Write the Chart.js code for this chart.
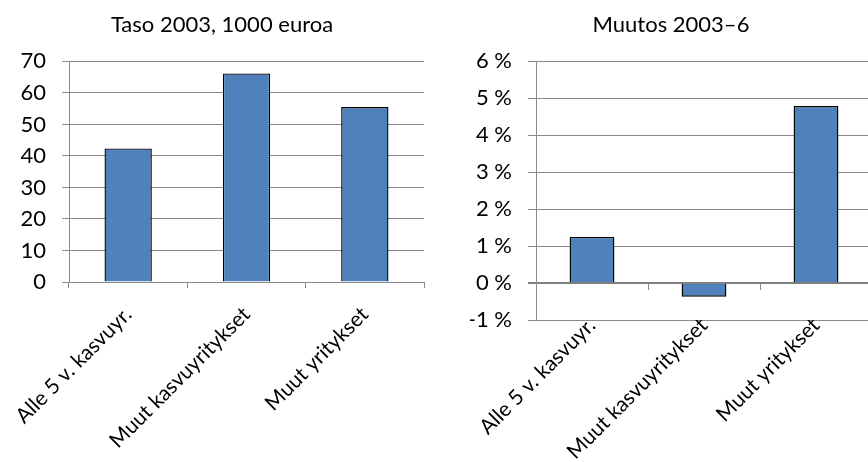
<!DOCTYPE html>
<html>
<head>
<meta charset="utf-8">
<script src="https://cdn.jsdelivr.net/npm/chart.js@4"></script>
<style>
  html, body { margin: 0; padding: 0; background: #fff; overflow: hidden; }
  #wrap { position: relative; width: 868px; height: 462px; }
  #left { position: absolute; left: 0; top: 0; width: 434px; height: 462px; }
  #rightClip { position: absolute; left: 434px; top: 0; width: 434px; height: 462px; overflow: hidden; }
  #right { position: absolute; left: 0; top: 0; width: 440px; height: 462px; }
</style>
</head>
<body>
<div id="wrap">
  <div id="left"><canvas id="levelChart" width="434" height="462"></canvas></div>
  <div id="rightClip"><div id="right"><canvas id="changeChart" width="440" height="462"></canvas></div></div>
</div>
<script>
const categories = ['Alle 5 v. kasvuyr.', 'Muut kasvuyritykset', 'Muut yritykset']
const level2003 = [42.4, 66.2, 55.5]
const change2003to6 = [1.25, -0.37, 4.79]
const levelTitle = 'Taso 2003, 1000 euroa'
const changeTitle = 'Muutos 2003–6'

const FONT = 'Lato, "Open Sans", sans-serif'
const barFill = '#4F81BD'
const gridGray = '#8a8a8a'

Chart.defaults.font.family = FONT
Chart.defaults.color = '#000'
Chart.defaults.animation = false

// small tick marks on the zero line, between categories (Excel style)
const zeroTicks = {
  id: 'zeroTicks',
  afterDatasetsDraw(chart) {
    const { ctx, scales: { x, y } } = chart
    const y0 = y.getPixelForValue(0)
    const step = (x.right - x.left) / chart.data.labels.length
    ctx.save()
    ctx.strokeStyle = gridGray
    ctx.lineWidth = 1
    ctx.beginPath()
    for (let i = 1; i < chart.data.labels.length; i++) {
      const px = Math.round(x.left + i * step) + 0.5
      ctx.moveTo(px, y0)
      ctx.lineTo(px, y0 + 7)
    }
    ctx.stroke()
    ctx.restore()
  }
}

const baseOptions = (cfg) => ({
  responsive: false,
  layout: { padding: { left: cfg.padLeft, right: cfg.padRight, top: 0, bottom: 0 } },
  plugins: {
    legend: { display: false },
    tooltip: { enabled: false },
    title: {
      display: true,
      text: cfg.title,
      font: { size: 22, weight: 'normal' },
      color: '#000',
      padding: { top: 12, bottom: 23 }
    }
  },
  scales: {
    x: {
      offset: true,
      grid: { display: true, drawOnChartArea: false, drawTicks: cfg.xTicks, tickLength: 6, color: gridGray, offset: true },
      border: { display: true, color: gridGray },
      ticks: {
        autoSkip: false,
        minRotation: 45,
        maxRotation: 45,
        font: { size: 21 },
        color: '#000',
        padding: cfg.xPad
      },
      afterFit: (scale) => {
        scale.height = cfg.xHeight
        scale.paddingLeft = 0
        scale.paddingRight = 0
      }
    },
    y: {
      min: cfg.min,
      max: cfg.max,
      grid: {
        color: cfg.gridColor || gridGray,
        lineWidth: cfg.gridWidth || 1,
        tickLength: cfg.tickLen
      },
      border: { display: true, color: gridGray },
      ticks: {
        stepSize: cfg.step,
        padding: cfg.tickPad,
        font: { size: 22 },
        color: '#000',
        callback: cfg.fmt
      },
      afterFit: (scale) => { scale.width = cfg.yWidth }
    }
  }
})

const makeData = (values) => ({
  labels: categories,
  datasets: [{
    data: values,
    backgroundColor: barFill,
    borderColor: '#000',
    borderWidth: 1.4,
    borderSkipped: 'start',
    categoryPercentage: 1,
    barPercentage: 0.4
  }]
})

new Chart(document.getElementById('levelChart'), {
  type: 'bar',
  data: makeData(level2003),
  options: baseOptions({
    title: levelTitle,
    padLeft: 20,
    padRight: 10,
    xHeight: 180,
    xTicks: true,
    xPad: 14,
    yWidth: 49,
    tickLen: 7,
    tickPad: 16,
    min: 0,
    max: 70,
    step: 10,
    fmt: (v) => v
  })
})

new Chart(document.getElementById('changeChart'), {
  type: 'bar',
  data: makeData(change2003to6),
  plugins: [zeroTicks],
  options: baseOptions({
    title: changeTitle,
    padLeft: 36,
    padRight: 2,
    xHeight: 142,
    xTicks: false,
    xPad: -7,
    yWidth: 66,
    tickLen: 8,
    tickPad: 16,
    min: -1,
    max: 6,
    step: 1,
    gridColor: (ctx) => (ctx.tick && ctx.tick.value === 0 ? '#7f7f7f' : gridGray),
    gridWidth: (ctx) => (ctx.tick && ctx.tick.value === 0 ? 2 : 1),
    fmt: (v) => v + ' %'
  })
})
</script>
</body>
</html>
